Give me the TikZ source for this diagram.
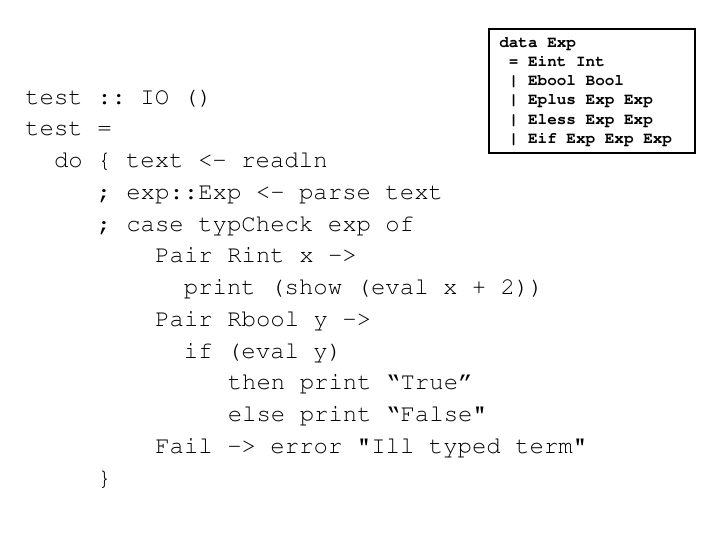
\documentclass[tikz,border=0pt]{standalone}
\usepackage[T1]{fontenc}
\usepackage{courier}
\usepackage{tikz}
\frenchspacing

\begin{document}
\begin{tikzpicture}[x=0.75pt,y=0.75pt,yscale=-1,xscale=1,
    code/.style={anchor=base west,inner sep=0pt,font=\ttfamily\fontsize{18}{22}\selectfont},
    decl/.style={anchor=base west,inner sep=0pt,font=\ttfamily\bfseries\fontsize{12}{14}\selectfont}]
        \useasboundingbox (0,0) rectangle (720,540);
        \draw [line width=1pt]  (489,29) -- (695,29) -- (695,153) -- (489,153) -- cycle ;
        
        \draw (499,47) node (d0) [decl] {data Exp};
        \draw (508.6,66.3) node (d1) [decl] {= Eint Int};
        \draw (508.6,85.6) node (d2) [decl] {| Ebool Bool};
        \draw (508.6,104.9) node (d3) [decl] {| Eplus Exp Exp};
        \draw (508.6,124.2) node (d4) [decl] {| Eless Exp Exp};
        \draw (508.6,143.5) node (d5) [decl] {| Eif Exp Exp Exp};
        
        \draw (25,104) node (sig) [code] {test :: IO ()};
        \draw (25,135.75) node (def) [code] {test =};
        \draw (53.8,167.5) node (rd) [code] {do \{ text <- readln};
        \draw (97.2,199.25) node (ps) [code] {; exp::Exp <- parse text};
        \draw (97.2,231) node (cs) [code] {; case typCheck exp of};
        \draw (155,262.75) node (pint) [code] {Pair Rint x ->};
        \draw (183.6,294.5) node (pr) [code] {print (show (eval x + 2))};
        \draw (155,326.25) node (pbool) [code] {Pair Rbool y ->};
        \draw (183.6,358) node (cond) [code] {if (eval y)};
        \draw (227.5,389.75) node (thn) [code] {then print \textquotedblleft True\textquotedblright};
        \draw (227.5,421.5) node (els) [code] {else print \textquotedblleft False\textquotedbl};
        \draw (155,453.25) node (fail) [code] {Fail -> error \textquotedbl Ill typed term\textquotedbl};
        \draw (97.2,485) node (cls) [code] {\}};
    \end{tikzpicture}
\end{document}
